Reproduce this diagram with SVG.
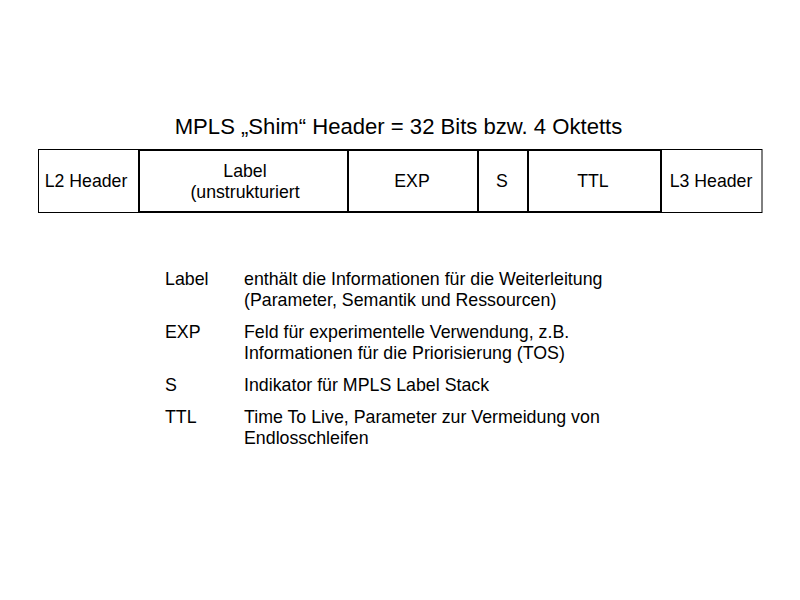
<svg xmlns="http://www.w3.org/2000/svg" width="800" height="600" viewBox="0 0 800 600">
<style>
text{font-family:"Liberation Sans",Arial,sans-serif;fill:#000}
.t{font-size:22.1px;text-anchor:middle}
.b{font-size:17.7px;text-anchor:middle}
.d{font-size:17.8px}
.thin{fill:#fff;stroke:#000;stroke-width:1}
.thick{fill:none;stroke:#000;stroke-width:2}
</style>
<rect width="800" height="600" fill="#fff"/>
<text class="t" x="398.5" y="134">MPLS „Shim“ Header = 32 Bits bzw. 4 Oktetts</text>
<g id="l2"><rect class="thin" x="38.5" y="149.5" width="100" height="63"/><text class="b" x="86" y="187">L2 Header</text></g>
<g id="l3"><rect class="thin" x="661" y="149.5" width="101" height="63"/><text class="b" x="711" y="187">L3 Header</text></g>
<g id="label"><rect class="thick" x="139" y="150" width="209" height="62"/><text class="b" x="245" y="177">Label</text><text class="b" x="245" y="198">(unstrukturiert</text></g>
<g id="exp"><rect class="thick" x="348" y="150" width="130" height="62"/><text class="b" x="412" y="187">EXP</text></g>
<g id="s"><rect class="thick" x="478" y="150" width="50" height="62"/><text class="b" x="502" y="187">S</text></g>
<g id="ttl"><rect class="thick" x="528" y="150" width="133" height="62"/><text class="b" x="593" y="187">TTL</text></g>
<g id="legend">
<text class="d" x="165" y="285">Label</text><text class="d" x="244" y="285">enthält die Informationen für die Weiterleitung</text>
<text class="d" x="244" y="306">(Parameter, Semantik und Ressourcen)</text>
<text class="d" x="165" y="338">EXP</text><text class="d" x="244" y="338">Feld für experimentelle Verwendung, z.B.</text>
<text class="d" x="244" y="359">Informationen für die Priorisierung (TOS)</text>
<text class="d" x="165" y="391">S</text><text class="d" x="244" y="391">Indikator für MPLS Label Stack</text>
<text class="d" x="165" y="423">TTL</text><text class="d" x="244" y="423">Time To Live, Parameter zur Vermeidung von</text>
<text class="d" x="244" y="444">Endlosschleifen</text>
</g>
</svg>
